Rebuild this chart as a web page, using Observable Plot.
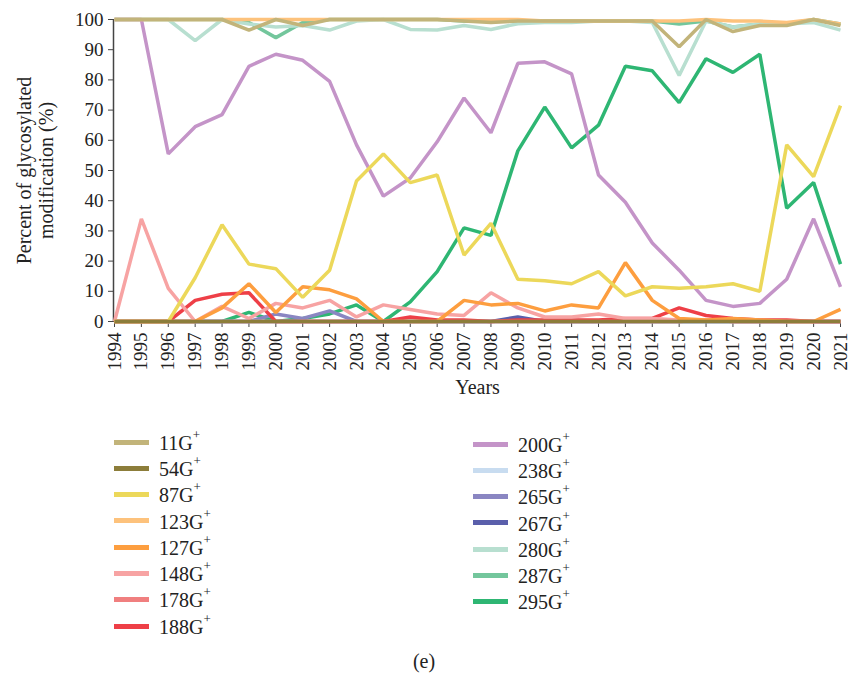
<!DOCTYPE html>
<html>
<head>
<meta charset="utf-8">
<script src="https://cdn.jsdelivr.net/npm/d3@7"></script>
<script src="https://cdn.jsdelivr.net/npm/@observablehq/plot@0.6"></script>
<style>
  body { margin: 0; background: #fff; font-family: "Liberation Serif", "DejaVu Serif", serif; color: #222; }
  #wrap { position: relative; width: 848px; height: 677px; }
  #chart { position: absolute; left: 0; top: 0; }
  .leg { position: absolute; display: flex; align-items: center; font-size: 20px; height: 26px; }
  .sw { width: 35px; height: 5px; margin-right: 10px; flex: none; }
  .leg sup { font-size: 13px; position: relative; top: -3px; }
  #cap { position: absolute; left: 0; width: 848px; top: 650px; text-align: center; font-size: 20px; }
</style>
</head>
<body>
<div id="wrap">
  <div id="chart"></div>
  <div id="legend"></div>
  <div id="cap">(e)</div>
</div>
<script>
const years = [1994,1995,1996,1997,1998,1999,2000,2001,2002,2003,2004,2005,2006,2007,2008,2009,2010,2011,2012,2013,2014,2015,2016,2017,2018,2019,2020,2021];
const yTicks = [0,10,20,30,40,50,60,70,80,90,100];

const keys = ["11G+","54G+","87G+","123G+","127G+","148G+","178G+","188G+","200G+","238G+","265G+","267G+","280G+","287G+","295G+"];
const colors = ["#c2b47a","#8c7d3a","#ecd85a","#fdc27c","#fd9e3f","#f7a3a3","#f07f7f","#ee3f47","#c494c8","#c8dcf0","#8a86c2","#5a5fab","#b8dfd0","#73c69c","#2eb673"];

const s11  = [100,100,100,100,100,96.5,100,98,100,100,100,100,100,99.5,99,99.5,99.5,99.5,99.5,99.5,99.5,91,100,96,98,98,100,98];
const s54  = [0,0,0,0,0,0,0,0,0,0,0,0,0,0,0,0,0,0,0,0,0,0,0,0,0,0,0,0];
const s87  = [0,0,0,14.5,32,19,17.5,8,17,46.5,55.5,46,48.5,22,32.5,14,13.5,12.5,16.5,8.5,11.5,11,11.5,12.5,10,58.5,48,71.5];
const s123 = [100,100,100,100,100,100,100,100,100,100,100,100,100,100,100,100,99.5,99.5,99.5,99.5,99.5,99.5,100,99.5,99.5,99,100,98.5];
const s127 = [0,0,0,0,4.5,12.5,3,11.5,10.5,7.5,0,0,0,7,5.5,6,3.5,5.5,4.5,19.5,7,1,0.5,1,0.5,0,0,4];
const s148 = [0,34,11,0,5,1,6,4.5,7,1.5,5.5,4,2.5,2,9.5,4.5,1.5,1.5,2.5,1,1,0.5,0.5,0,0,0,0,0];
const s178 = [0,0,0,0,0,0,0,0,0,0,0,0,0,0,0,0,0,0,0,0,0,0,0.5,0,0,0,0,0];
const s188 = [0,0,0,7,9,9.5,0,0,0,0,0,1.5,0.5,0.5,0,0.5,0.5,0.5,0.5,1,1,4.5,2,1,0.5,0.5,0,0];
const s200 = [100,100,55.5,64.5,68.5,84.5,88.5,86.5,79.5,58.5,41.5,47.5,59.5,74,62.5,85.5,86,82,48.5,39.5,26,17,7,5,6,14,34,11.5];
const s238 = [0,0,0,0,0,0,0,0,0,0,0,0,0,0,0,0,0,0.5,0,0,0,0,0,0,0,0,0,0];
const s265 = [0,0,0,0,0,0,2.5,1,3.5,0,0,0,0,0,0,0,0,0,0,0,0,0,0,0,0,0,0,0];
const s267 = [0,0,0,0,0,0,0,0,0,0,0,0,0,0,0,1.5,0,0,0,0,0,0,0,0,0,0,0,0];
const s280 = [100,100,100,93,100,98.5,97.5,98,96.5,99.5,100,96.7,96.5,98,96.7,98.6,99,99,99.5,99.5,99,81.5,99.5,97.5,98.5,98.5,99,96.5];
const s287 = [100,100,100,100,100,99,94,99,100,100,100,100,100,99.5,99.5,99.5,99.5,99.5,99.5,99.5,99.5,98.5,99.5,97.5,98.5,98.5,100,98.5];
const s295 = [0,0,0,0,0,3,0,1,2.5,5.5,0,6.5,16.5,31,28.5,56.5,71,57.5,65,84.5,83,72.5,87,82.5,88.5,37.5,46,19];

const series = [s11,s54,s87,s123,s127,s148,s178,s188,s200,s238,s265,s267,s280,s287,s295];

// draw in reverse legend order so 11G+ and 54G+ end up on top
const rows = [];
for (let k = keys.length - 1; k >= 0; k--) {
  years.forEach((yr, i) => rows.push({year: yr, value: series[k][i], key: keys[k]}));
}

const chart = Plot.plot({
  width: 848,
  height: 415,
  marginLeft: 114,
  marginRight: 8,
  marginTop: 19,
  marginBottom: 94,
  style: {fontFamily: "'Liberation Serif', serif", fontSize: "19px", color: "#222", background: "white", overflow: "visible"},
  x: {domain: [1994, 2021]},
  y: {domain: [0, 100]},
  color: {domain: keys, range: colors},
  marks: [
    Plot.ruleX([1994], {y1: 0, y2: 100, stroke: "#444", strokeWidth: 1.5, dx: -1}),
    Plot.axisY({ticks: yTicks, tickSize: 6, tickPadding: 5, label: null, fontSize: 19, stroke: "#444"}),
    Plot.axisX({ticks: years, tickFormat: d => String(d), tickSize: 6, tickRotate: -90, tickPadding: 5, label: null, fontSize: 19, stroke: "#444"}),
    Plot.line(rows, {x: "year", y: "value", z: "key", stroke: "key", strokeWidth: 3.5, strokeLinejoin: "miter", strokeLinecap: "butt"}),
    Plot.text(["Percent of glycosylated\nmodification (%)"], {frameAnchor: "left", textAnchor: "middle", rotate: -90, dx: -80, fontSize: 20, lineHeight: 1.1, fill: "#222"}),
    Plot.text(["Years"], {frameAnchor: "bottom", dy: 72, fontSize: 20, fill: "#222"})
  ]
});
document.getElementById("chart").appendChild(chart);

// legend
const legend = document.getElementById("legend");
keys.forEach((k, i) => {
  const col = i < 8 ? 0 : 1;
  const row = i < 8 ? i : i - 8;
  const div = document.createElement("div");
  div.className = "leg";
  div.style.left = (col === 0 ? 114 : 473) + "px";
  div.style.top = ((col === 0 ? 429 : 431) + row * 26.3) + "px";
  const sw = document.createElement("span");
  sw.className = "sw";
  sw.style.background = colors[i];
  const t = document.createElement("span");
  t.innerHTML = k.replace("+", "") + "<sup>+</sup>";
  div.appendChild(sw);
  div.appendChild(t);
  legend.appendChild(div);
});
</script>
</body>
</html>
